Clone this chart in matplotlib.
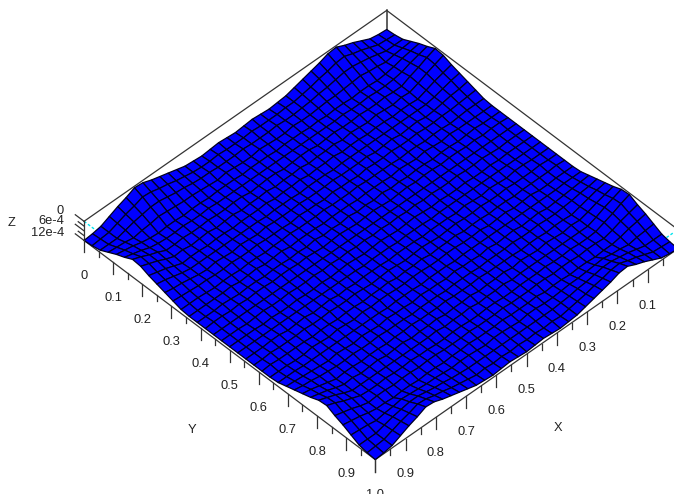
import numpy as np
import matplotlib
matplotlib.use("Agg")
import matplotlib.pyplot as plt

plt.rcParams['font.family'] = ['Liberation Sans', 'DejaVu Sans']

# Depth, one character per grid node, base 36, in units of 0.5e-4
DEPTH_UNIT = 0.5e-4
DEPTH_ROWS = [
    "onlgb7237adgj" "kkkkkkkkkkk" "jgda7327bglno",
    "nmlhda67acfhj" "kkjkkkkkkjk" "jhfca76adhlmn",
    "lllifdbbdfgij" "kkjkkkkkjkk" "jigfdbbdfilll",
    "ghikihfghiijk" "kjkklkkjkkl" "kjiihgfhikihg",
    "bdfi" "kjkklkkjlkkjkklkjkklkkjlkkjkk" "ifdb",
    "7adh" "lkkjkklkkjlkkjkklkkjklkkjkkjk" "hda7",
    "26bf" "kkjlkkjkklkjkklkkjlkkjkklkkjl" "fb62",
    "37bg" "kjkklkkjlkkjkklkjkklkkjlkkjkk" "gb73",
    "7adh" "lkkjkklkkjlkkjkklkkjklkkjkkjk" "hda7",
    "acfi" "kkjlkkjkklkjkklkkjlkkjkklkkjl" "ifca",
    "dfgi" "kjkklkkjlkkjkklkjkklkkjlkkjkk" "igfd",
    "ghij" "lkkjkklkkjlkkjkklkkjklkkjkkjk" "jihg",
    "jjjk" "kkjlkkjkklkjkklkkjlkkjkklkkjl" "kjjj",
    "kjkklkkjlkkjkklkkjklkkjkklkkjlkkjkklk",
    "lkkjkklkjkklkkjlkkjkklkjkklkkjlkkjkkl",
    "kkjlkkjkklkkjklkkjkklkkjlkkjkklkkjklk",
    "jkklkkjlkkjkklkjkklkkjlkkjkklkkjklkkj",
    "kjkklkkjlkkjkklkkjklkkjkklkkjlkkjkklk",
    "lkkjkklkjkklkkjlkkjkklkjkklkkjlkkjkkl",
    "kkjlkkjkklkkjklkkjkklkkjlkkjkklkkjklk",
    "jkklkkjlkkjkklkjkklkkjlkkjkklkkjklkkj",
    "kjkklkkjlkkjkklkkjklkkjkklkkjlkkjkklk",
    "lkkjkklkjkklkkjlkkjkklkjkklkkjlkkjkkl",
    "kkjlkkjkklkkjklkkjkklkkjlkkjkklkkjklk",
    "jjjk" "kkjlkkjkklkjkklkkjlkkjkklkkjl" "kjjj",
    "ghij" "lkkjkklkkjlkkjkklkkjklkkjkkjk" "jihg",
    "dfgi" "kjkklkkjlkkjkklkjkklkkjlkkjkk" "igfd",
    "acfi" "kkjlkkjkklkjkklkkjlkkjkklkkjl" "ifca",
    "7adh" "lkkjkklkkjlkkjkklkkjklkkjkkjk" "hda7",
    "37bg" "kjkklkkjlkkjkklkjkklkkjlkkjkk" "gb73",
    "26bf" "kkjlkkjkklkjkklkkjlkkjkklkkjl" "fb62",
    "7adh" "lkkjkklkkjlkkjkklkkjklkkjkkjk" "hda7",
    "bdfi" "kjkklkkjlkkjkklkjkklkkjlkkjkk" "ifdb",
    "ghikihfghiijk" "kjkklkkjkkl" "kjiihgfhikihg",
    "lllifdbbdfgij" "kkjkkkkkjkk" "jigfdbbdfilll",
    "nmlhda67acfhj" "kkjkkkkkkjk" "jhfca76adhlmn",
    "onlgb7237adgj" "kkkkkkkkkkk" "jgda7327bglno",
]
X_GRID = np.linspace(0, 1, 37)
Y_GRID = np.linspace(0, 1, 37)
Z_MIN_LABELLED = 0.0
Z_MAX_LABELLED = 12e-4

MAJOR_TICKS = [0.0, 0.1, 0.2, 0.3, 0.4, 0.5, 0.6, 0.7, 0.8, 0.9, 1.0]
MINOR_TICKS = [0.05, 0.15, 0.25, 0.35, 0.45, 0.55, 0.65, 0.75, 0.85, 0.95]
X_LABELS = ["", "0.1", "0.2", "0.3", "0.4", "0.5", "0.6", "0.7", "0.8", "0.9", "1.0"]
Y_LABELS = ["0", "0.1", "0.2", "0.3", "0.4", "0.5", "0.6", "0.7", "0.8", "0.9", ""]
Z_MAJOR = [0.0, 6e-4, 12e-4]
Z_MINOR = [3e-4, 9e-4]
Z_LABELS = ["0", "6e-4", "12e-4"]

Z = np.array([[int(c, 36) for c in row] for row in DEPTH_ROWS]) * DEPTH_UNIT
XX, YY = np.meshgrid(X_GRID, Y_GRID, indexing='ij')

W, H = 674, 494
SQ = 800.0
CX, CY = 381.0, 235.0
frac = 0.95 / 1.85
left = CX - frac * SQ
bottom = (H - CY) - frac * SQ

fig = plt.figure(figsize=(W / 100, H / 100), dpi=100, facecolor='white')
ax = fig.add_axes([left / W, bottom / H, SQ / W, SQ / H], projection='3d',
                  computed_zorder=False, proj_type='ortho')
ax.set_axis_off()
ax.patch.set_alpha(0)
ax.view_init(elev=46.4, azim=46.1, roll=0)
ax.set_box_aspect((1, 1, 0.066), zoom=0.7216)

LINE = '#333333'
TEXT = '#222222'
zt, zb = Z_MIN_LABELLED, Z_MAX_LABELLED

# hidden front-top box edges
ax.plot([1, 1, 0], [0, 1, 1], [zt, zt, zt], color='#00e5ee', lw=1, ls=(0, (2, 1.5)), zorder=1)
# back box edges
ax.plot([1, 0, 0], [0, 0, 1], [zt, zt, zt], color=LINE, lw=0.9, zorder=2)
ax.plot([0, 0], [0, 0], [zt, zb], color=LINE, lw=1.1, zorder=2)
ax.plot([1, 1], [0, 0], [zt, zb], color=LINE, lw=0.9, zorder=2)
# floor axes
ax.plot([1, 1], [0, 1], [zb, zb], color=LINE, lw=0.9, zorder=2)
ax.plot([0, 1], [1, 1], [zb, zb], color=LINE, lw=0.9, zorder=2)

ax.plot_surface(XX, YY, Z, rstride=1, cstride=1, color='#0000ff', edgecolor='#000020',
                linewidth=0.9, shade=False, antialiased=True, zorder=3)

MAJOR_LEN = 7.5e-4
MINOR_LEN = 3.8e-4
for t in MAJOR_TICKS:
    ax.plot([1, 1], [t, t], [zb, zb + MAJOR_LEN], color=LINE, lw=0.9, zorder=4)
    ax.plot([t, t], [1, 1], [zb, zb + MAJOR_LEN], color=LINE, lw=0.9, zorder=4)
for t in MINOR_TICKS:
    ax.plot([1, 1], [t, t], [zb, zb + MINOR_LEN], color=LINE, lw=0.9, zorder=4)
    ax.plot([t, t], [1, 1], [zb, zb + MINOR_LEN], color=LINE, lw=0.9, zorder=4)
for z in Z_MAJOR:
    ax.plot([1, 1], [0, -0.03], [z, z], color=LINE, lw=0.9, zorder=4)
for z in Z_MINOR:
    ax.plot([1, 1], [0, -0.02], [z, z], color=LINE, lw=0.9, zorder=4)

FS = 9.3
LABEL_Z = 34.5e-4
for t, s in zip(MAJOR_TICKS, Y_LABELS):
    if s:
        ax.text(1, t, LABEL_Z, s, ha='center', va='center', fontsize=FS, color=TEXT, zorder=5)
for t, s in zip(MAJOR_TICKS, X_LABELS):
    if s:
        ax.text(t, 1, LABEL_Z, s, ha='center', va='center', fontsize=FS, color=TEXT, zorder=5)
for z, s, dz in zip(Z_MAJOR, Z_LABELS, [2.8e-4, 3.4e-4, 4.4e-4]):
    ax.text(1, -0.068, z + dz, s, ha='right', va='center', fontsize=FS, color=TEXT, zorder=5)
ax.text(1, -0.25, 35.4e-4, 'Z', ha='center', va='center', fontsize=FS, color=TEXT, zorder=5)
ax.text(1, 0.37, 80e-4, 'Y', ha='center', va='center', fontsize=FS, color=TEXT, zorder=5)
ax.text(0.397, 1, 72e-4, 'X', ha='center', va='center', fontsize=FS, color=TEXT, zorder=5)

ax.set_xlim(0, 1)
ax.set_ylim(0, 1)
ax.set_zlim(zb, zt)

fig.savefig('out.png', dpi=100)
